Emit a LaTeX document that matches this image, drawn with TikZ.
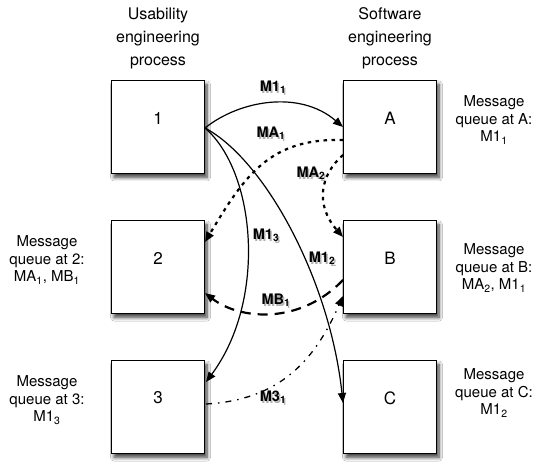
\documentclass[tikz,border=0pt]{standalone}
\usepackage{fontspec}
\setmainfont{TeX Gyre Heros}
\usetikzlibrary{arrows.meta,shadows.blur}

\newcommand\sub[1]{\textsubscript{#1}}
% edge label with a soft shadow underneath
\newcommand\edgelabel[3]{%
  \node[lblshadow] at ([shift={(1.5pt,-2pt)}]#2) {#3};
  \node[elbl] (#1) at (#2) {#3};
}

\begin{document}
\begin{tikzpicture}[x=1pt,y=-1pt,
  stagebox/.style={draw=black,line width=1.3pt,fill=white,minimum size=93pt,inner sep=0pt,
    blur shadow={shadow xshift=2.5pt,shadow yshift=-4pt,shadow blur radius=3.5pt,shadow blur steps=8,shadow opacity=75}},
  boxnum/.style={font=\fontsize{17}{20}\selectfont,inner sep=0pt},
  header/.style={align=center,font=\fontsize{16}{23}\selectfont,inner sep=0pt},
  queue/.style={align=center,font=\fontsize{15}{17.5}\selectfont,inner sep=0pt},
  elbl/.style={font=\fontsize{14.5}{17}\selectfont\bfseries,inner sep=0pt},
  lblshadow/.style={elbl,text=black,opacity=0.3},
  msg/.style={line width=1.2pt,-{Triangle[length=10pt,width=8pt]}},
  dotmsg/.style={msg,line width=2.2pt,dash pattern=on 3.5pt off 4.5pt},
  longmsg/.style={msg,line width=2.2pt,dash pattern=on 10pt off 7pt},
  dashdotmsg/.style={msg,line width=1.3pt,dash pattern=on 6pt off 6pt on 1.5pt off 6pt},
]
\useasboundingbox[fill=white] (0,0) rectangle (536,462);

% process headers
\node[header] (hu) at (158,38) {Usability\\engineering\\process};
\node[header] (hs) at (390,38) {Software\\engineering\\process};

% process steps
\node[stagebox] (b1) at (158,127) {};
\node[stagebox] (b2) at (158,267) {};
\node[stagebox] (b3) at (158,407) {};
\node[stagebox] (bA) at (390,127) {};
\node[stagebox] (bB) at (390,267) {};
\node[stagebox] (bC) at (390,407) {};
\node[boxnum] (t1) at (158,118) {1};
\node[boxnum] (t2) at (158,258) {2};
\node[boxnum] (t3) at (158,398) {3};
\node[boxnum] (tA) at (390,118) {A};
\node[boxnum] (tB) at (390,258) {B};
\node[boxnum] (tC) at (390,398) {C};

% message queues
\node[queue] (q2) at (47,260) {Message\\queue at 2:\\MA\sub{1}, MB\sub{1}};
\node[queue] (q3) at (47,400) {Message\\queue at 3:\\M1\sub{3}};
\node[queue] (qA) at (494,120) {Message\\queue at A:\\M1\sub{1}};
\node[queue] (qB) at (494,268) {Message\\queue at B:\\MA\sub{2}, M1\sub{1}};
\node[queue] (qC) at (494,393) {Message\\queue at C:\\M1\sub{2}};

% anchor points on the box sides
\coordinate (o1) at (205,128);
\coordinate (inA) at (343,127);
\coordinate (outA1) at (343,140);
\coordinate (outA2) at (343,155);
\coordinate (in2a) at (205,242);
\coordinate (in2b) at (205,293);
\coordinate (in3) at (206,382);
\coordinate (inB1) at (343,237);
\coordinate (outB) at (343,280);
\coordinate (inB2) at (343,296);
\coordinate (out3) at (206,404);
\coordinate (inC) at (343,403);

% messages
\draw[msg] (o1) .. controls (240,100) and (300,90) .. (inA);
\draw[msg] (o1) .. controls (256,172) and (267,300) .. (in3);
\draw[msg] (o1) .. controls (265,160) and (330,280) .. (inC);
\draw[dotmsg] (outA1) .. controls (270,138) and (245,175) .. (in2a);
\draw[dotmsg] (outA2) .. controls (320,175) and (315,205) .. (inB1);
\draw[longmsg] (outB) .. controls (300,325) and (240,320) .. (in2b);
\draw[dashdotmsg] (out3) .. controls (280,400) and (315,360) .. (inB2);

% message labels
\edgelabel{l11}{273,87}{M1\sub{1}}
\edgelabel{la1}{271,133}{MA\sub{1}}
\edgelabel{la2}{311,173}{MA\sub{2}}
\edgelabel{l13}{266,235}{M1\sub{3}}
\edgelabel{l12}{322,258}{M1\sub{2}}
\edgelabel{lb1}{276,300}{MB\sub{1}}
\edgelabel{l31}{273,397}{M3\sub{1}}
\end{tikzpicture}
\end{document}
